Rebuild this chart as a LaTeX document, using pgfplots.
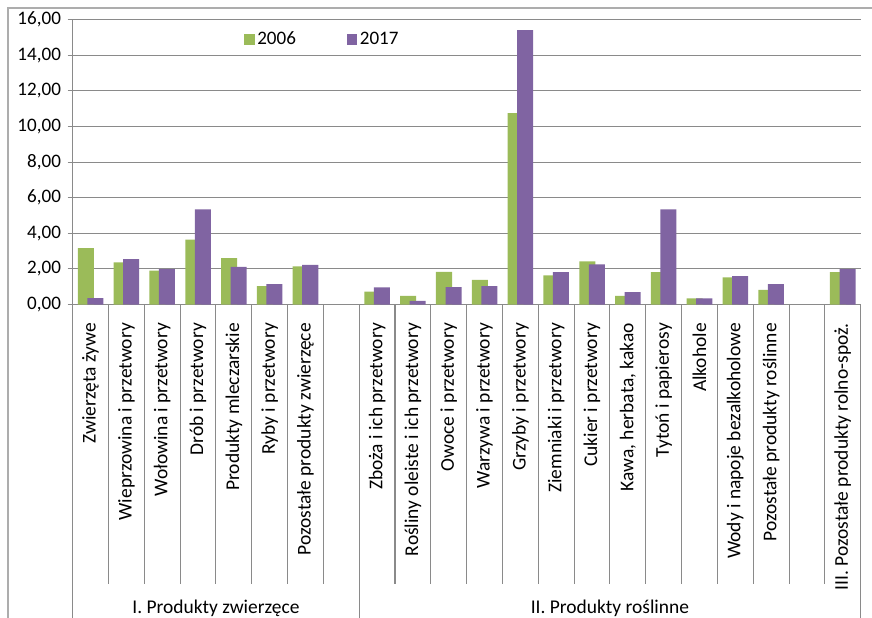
\documentclass[border=0pt]{standalone}
\usepackage{fontspec}
\setmainfont{Carlito}
\usepackage{pgfplots}
\pgfplotsset{compat=1.18}
\definecolor{g06}{HTML}{9BBB59}
\definecolor{p17}{HTML}{8064A2}
\definecolor{gridg}{HTML}{8A8A8A}
\newcommand{\lbl}{\fontsize{14.6pt}{17pt}\selectfont}
\begin{document}
\fontsize{14.6pt}{17pt}\selectfont
\begin{tikzpicture}
\useasboundingbox (0,0) rectangle (654pt,463.5pt);
% frame of the chart area
\draw[gridg!70, line width=0.8pt] (6pt,0) -- (6pt,457.5pt) -- (654pt,457.5pt);
\begin{axis}[
  at={(54.5pt,235.1pt)}, anchor=south west,
  scale only axis, width=591pt, height=213.75pt,
  xmin=-0.5, xmax=21.5, ymin=0, ymax=16,
  clip=false,
  axis lines*=left,
  axis line style={-, gridg, line width=0.8pt},
  ymajorgrids, grid style={gridg, line width=0.8pt},
  ytick={0,2,...,16},
  tick align=outside, major tick length=3.75pt,
  ytick style={gridg, line width=0.8pt},
  xtick style={draw=none},
  /pgf/number format/assume math mode=true,
  yticklabel style={/pgf/number format/fixed, /pgf/number format/fixed zerofill,
    /pgf/number format/precision=2, /pgf/number format/use comma},
  tick label style={font=\fontsize{14.3pt}{17pt}\selectfont},
  xtick={0,1,2,3,4,5,6,8,9,10,11,12,13,14,15,16,17,18,19,21},
  xticklabels={Zwierzęta żywe, Wieprzowina i przetwory, Wołowina i przetwory,
    Drób i przetwory, Produkty mleczarskie, Ryby i przetwory,
    Pozostałe produkty zwierzęce,
    Zboża i ich przetwory, Rośliny oleiste i ich przetwory, Owoce i przetwory,
    Warzywa i przetwory, Grzyby i przetwory, Ziemniaki i przetwory,
    Cukier i przetwory, {Kawa, herbata, kakao}, Tytoń i papierosy, Alkohole,
    Wody i napoje bezalkoholowe, Pozostałe produkty roślinne,
    III. Pozostałe produkty rolno-spoż.},
  xticklabel style={yshift=-10pt, rotate=90, anchor=east, inner sep=0pt, font=\lbl},
  legend columns=2,
  legend style={at={(0.217,0.93)}, anchor=west, draw=none, fill=none,
    inner sep=0pt, font=\fontsize{14.3pt}{17pt}\selectfont,
    /tikz/every even column/.append style={column sep=36pt}},
  legend image code/.code={\fill[#1] (0pt,-4pt) rectangle (8pt,4pt);},
]
\addplot[ybar, bar width=0.447, bar shift=-0.133, fill=g06, draw=none] coordinates {
  (0,3.17) (1,2.37) (2,1.90) (3,3.64) (4,2.61) (5,1.04) (6,2.14)
  (8,0.72) (9,0.48) (10,1.84) (11,1.38) (12,10.75) (13,1.64) (14,2.43)
  (15,0.48) (16,1.82) (17,0.35) (18,1.53) (19,0.83) (21,1.82)
};
\addlegendentry{2006}
\addplot[ybar, bar width=0.447, bar shift=0.133, fill=p17, draw=none] coordinates {
  (0,0.36) (1,2.55) (2,1.99) (3,5.34) (4,2.11) (5,1.15) (6,2.22)
  (8,0.97) (9,0.20) (10,0.98) (11,1.04) (12,15.41) (13,1.82) (14,2.26)
  (15,0.70) (16,5.34) (17,0.35) (18,1.60) (19,1.15) (21,1.99)
};
\addlegendentry{2017}
% category separators
\pgfplotsinvokeforeach{0.5,1.5,...,20.5}{
  \draw[gridg, line width=0.8pt] (axis cs:#1,0) -- ++(0pt,-209.25pt);
}
\pgfplotsinvokeforeach{-0.5,7.5,21.5}{
  \draw[gridg, line width=0.8pt] (axis cs:#1,0) -- ++(0pt,-240pt);
}
\path (axis cs:3.5,0) ++(0pt,-227.6pt) node {I. Produkty zwierzęce};
\path (axis cs:14.5,0) ++(0pt,-227.6pt) node {II. Produkty roślinne};
\end{axis}
\end{tikzpicture}
\end{document}
